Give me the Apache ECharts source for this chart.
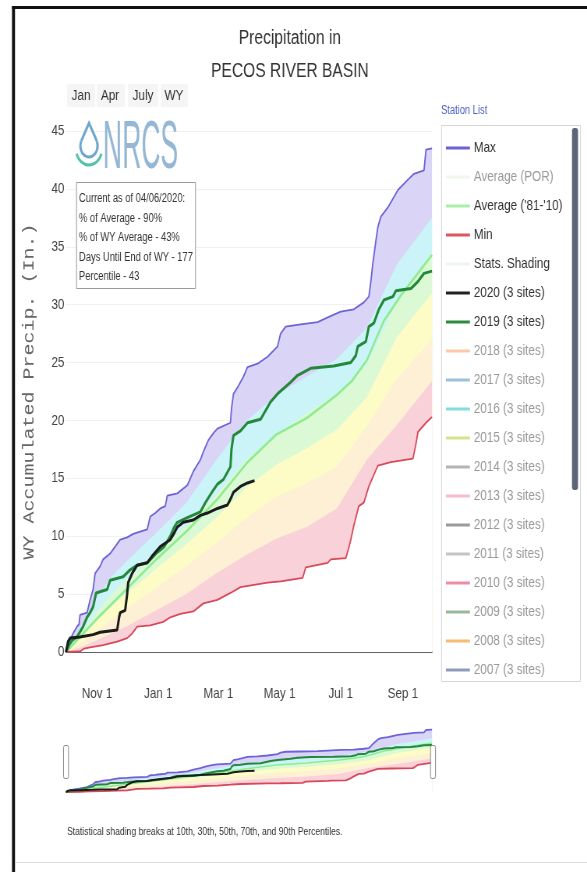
<!DOCTYPE html>
<html><head><meta charset="utf-8">
<script src="https://cdn.jsdelivr.net/npm/echarts@6/dist/echarts.min.js"></script>
<style>html,body{margin:0;padding:0;background:#fff;overflow:hidden}
#c{width:753px;height:872px;transform:scaleX(0.7796);transform-origin:0 0}</style>
</head><body><div id="c"></div>
<script>
// ---- axis ticks (water-year day index, Oct 1 = 0) ----
const tickDays = [31, 92, 152, 213, 274, 336];
const tickLabels = ['Nov 1', 'Jan 1', 'Mar 1', 'May 1', 'Jul 1', 'Sep 1'];
const yTicks = [0, 5, 10, 15, 20, 25, 30, 35, 40, 45];

// ---- series values [day, inches] ----
const maxLine = [[0,0],[1,0.3],[4,1.0],[7,1.6],[11,2.2],[13,2.4],[14,3.2],[21,3.4],[24,4.5],[27,5.4],[29,6.8],[34,7.4],[37,8.0],[44,8.5],[49,9.1],[54,9.7],[61,9.9],[67,10.2],[74,10.4],[81,10.6],[84,11.7],[89,12.0],[94,12.4],[99,12.6],[101,13.5],[111,13.7],[121,14.4],[127,15.6],[134,16.6],[137,17.3],[142,18.3],[147,18.9],[151,19.3],[164,19.8],[165,21.0],[167,22.3],[172,23.0],[177,23.8],[181,24.6],[191,24.9],[201,25.5],[211,26.4],[214,27.5],[219,28.1],[234,28.3],[251,28.5],[261,28.9],[274,29.4],[287,29.6],[297,30.2],[302,30.7],[304,32.0],[306,33.6],[309,35.5],[311,36.7],[314,37.6],[321,38.4],[331,39.9],[341,40.8],[347,41.3],[357,41.6],[359,43.4],[365,43.5]];
const minLine = [[0,0],[14,0.05],[18,0.3],[24,0.4],[37,0.6],[51,0.9],[61,1.2],[66,1.6],[71,2.2],[84,2.3],[97,2.6],[104,3.0],[114,3.3],[127,3.5],[137,4.2],[151,4.5],[164,5.1],[174,5.6],[201,6.0],[214,6.1],[236,6.4],[239,7.3],[261,7.7],[264,8.0],[279,8.1],[282,9.0],[284,9.7],[287,10.9],[292,12.6],[297,12.9],[302,14.3],[311,16.1],[324,16.4],[346,16.7],[349,18.0],[351,19.0],[359,19.8],[365,20.3]];
const avg8110 = [[0,0],[15,1.4],[30,2.8],[45,4.1],[60,5.4],[90,8.0],[120,10.4],[150,13.1],[180,16.3],[210,18.8],[240,20.2],[270,22.2],[285,23.4],[300,25.2],[317,28.6],[334,30.8],[365,34.3]];
const wy2020 = [[0,0],[2,0.9],[4,1.2],[14,1.3],[27,1.5],[34,1.7],[51,1.9],[53,3.0],[54,3.4],[59,3.6],[61,5.0],[62,6.0],[66,6.8],[71,7.5],[81,7.7],[86,8.3],[91,8.8],[94,9.1],[104,9.7],[108,10.3],[111,10.8],[117,11.2],[127,11.4],[134,11.8],[141,12.0],[151,12.4],[161,12.7],[164,13.2],[167,13.8],[174,14.3],[181,14.6],[188,14.8]];
const wy2019 = [[0,0],[3,0.6],[6,1.0],[11,1.3],[17,2.2],[21,3.0],[24,3.4],[27,3.9],[30,5.1],[41,5.4],[44,6.2],[57,6.5],[64,7.1],[71,7.5],[81,7.7],[91,8.6],[98,9.1],[104,10.0],[108,10.8],[111,11.2],[121,11.6],[134,12.1],[139,12.9],[147,14.0],[151,14.5],[157,14.9],[164,16.0],[165,17.5],[167,18.7],[174,19.1],[181,19.8],[194,20.1],[204,21.6],[211,22.3],[224,23.3],[231,23.9],[244,24.5],[267,24.7],[284,25.0],[289,25.6],[291,26.4],[299,26.8],[302,28.1],[307,28.4],[312,29.6],[317,30.4],[326,30.7],[329,31.2],[344,31.4],[351,32.0],[357,32.7],[365,32.9]];

// ---- statistical shading (percentiles) ----
const statDays = [0, 15, 30, 45, 60, 90, 120, 150, 180, 210, 240, 270, 300, 330, 365];
const p90 = [0, 2.2, 4.6, 6.5, 7.8, 10.3, 12.9, 16.6, 20.0, 22.2, 23.8, 25.3, 28.0, 33.5, 37.5];
const p70 = [0, 1.6, 3.4, 5.0, 6.2, 8.6, 10.9, 13.6, 16.6, 18.8, 20.6, 22.3, 24.8, 30.3, 34.5];
const p50 = [0, 1.2, 2.6, 3.9, 5.0, 7.2, 9.3, 11.6, 14.2, 16.2, 17.6, 19.2, 22.0, 27.2, 31.0];
const p30 = [0, 0.8, 1.8, 2.8, 3.7, 5.6, 7.4, 9.4, 11.6, 13.4, 14.6, 16.0, 19.5, 23.6, 27.0];
const p10 = [0, 0.4, 1.0, 1.6, 2.2, 3.6, 5.0, 6.8, 8.4, 9.8, 10.8, 12.4, 16.6, 19.6, 23.4];

// ---- legend entries ----
const legendNames = ['Max', 'Average (POR)', "Average ('81-'10)", 'Min', 'Stats. Shading', '2020 (3 sites)', '2019 (3 sites)',
  '2018 (3 sites)', '2017 (3 sites)', '2016 (3 sites)', '2015 (3 sites)', '2014 (3 sites)', '2013 (3 sites)',
  '2012 (3 sites)', '2011 (3 sites)', '2010 (3 sites)', '2009 (3 sites)', '2008 (3 sites)', '2007 (3 sites)'];
const legendColors = ['#6c63d9', '#eef7ea', '#a9f0a9', '#d9585f', '#eef5ee', '#222222', '#2e8a3e',
  '#fbc8a8', '#9cc0da', '#7fdde4', '#d6e38e', '#b4b4b4', '#f6bccb', '#9a9a9a', '#c4c4c4', '#f08aa6', '#97b997', '#f8bb72', '#8e9cbc'];
const legendActive = [true, false, true, true, true, true, true, false, false, false, false, false, false, false, false, false, false, false, false];

// page is drawn wider and squeezed horizontally (like the reference rendering)
const S = 0.7796;
const X = px => px / S;
const FONT = "'Liberation Sans',Arial,sans-serif";

const zip = (xs, ys) => xs.map((x, i) => [x, ys[i]]);
const bandColors = ['#dad4f6', '#cbf4f9', '#dcf9d6', '#fefcc6', '#fdf0d4', '#f9d2d9', '#ffffff'];
const bandData = [maxLine, zip(statDays, p90), zip(statDays, p70), zip(statDays, p50), zip(statDays, p30), zip(statDays, p10), minLine];

function buildSeries(gi) {
  const mini = gi === 1;
  const s = [];
  bandData.forEach((d, i) => {
    s.push({ name: 'Stats. Shading', type: 'line', xAxisIndex: gi, yAxisIndex: gi, data: d, symbol: 'none', silent: true,
      lineStyle: { width: 0 }, areaStyle: { color: bandColors[i], opacity: 1 }, itemStyle: { color: bandColors[i] }, z: 1 });
  });
  const lines = [
    ["Average ('81-'10)", avg8110, '#8eec8e', mini ? 1.5 : 2.5],
    ['Max', maxLine, '#6c63d9', mini ? 1.8 : 1.8],
    ['Min', minLine, '#d9485a', mini ? 1.8 : 1.8],
    ['2019 (3 sites)', wy2019, '#23883a', mini ? 2 : 3],
    ['2020 (3 sites)', wy2020, '#1b1b1b', mini ? 2 : 3]
  ];
  lines.forEach(([n, d, c, w]) => {
    s.push({ name: n, type: 'line', xAxisIndex: gi, yAxisIndex: gi, data: d, symbol: 'none', silent: true,
      lineStyle: { color: c, width: w }, itemStyle: { color: c }, z: 3 });
  });
  return s;
}

const series = buildSeries(0).concat(buildSeries(1));
legendNames.forEach((n, i) => {
  if (!['Max', "Average ('81-'10)", 'Min', 'Stats. Shading', '2020 (3 sites)', '2019 (3 sites)'].includes(n)) {
    series.push({ name: n, type: 'line', data: [], itemStyle: { color: legendColors[i] } });
  }
});

const txt = (x, y, text, size, extra) => ({ type: 'text', x: X(x), y: y, z: 20,
  style: Object.assign({ text: text, fontFamily: FONT, fontSize: size, fill: '#333' }, extra || {}) });

const chart = echarts.init(document.getElementById('c'), null, { renderer: 'canvas', width: 753, height: 872 });
chart.setOption({
  animation: false,
  backgroundColor: '#ffffff',
  textStyle: { fontFamily: FONT },
  title: [
    { text: 'Precipitation in\nPECOS RIVER BASIN', left: X(286), top: 17, textAlign: 'center',
      textStyle: { fontFamily: FONT, fontSize: 20, fontWeight: 'normal', color: '#333', lineHeight: 33 } }
  ],
  grid: [
    { left: X(66), top: 131, width: X(366), height: 521, containLabel: false },
    { left: X(66), top: 729, width: X(366), height: 63, containLabel: false }
  ],
  xAxis: [
    { type: 'value', gridIndex: 0, min: 0, max: 365,
      axisLine: { show: true, lineStyle: { color: '#333', width: 1.5 } }, axisTick: { show: false }, splitLine: { show: false },
      axisLabel: { customValues: tickDays, formatter: v => tickLabels[tickDays.indexOf(v)], margin: 34, fontSize: 15, color: '#444', fontFamily: FONT } },
    { type: 'value', gridIndex: 1, min: 0, max: 365, show: false }
  ],
  yAxis: [
    { type: 'value', gridIndex: 0, min: 0, max: 45, interval: 5,
      name: 'WY Accumulated Precip. (In.)', nameLocation: 'middle', nameGap: 37, nameRotate: 90,
      nameTextStyle: { fontFamily: "'Liberation Mono','DejaVu Sans Mono',monospace", fontSize: 20, color: '#666' },
      axisLine: { show: false }, axisTick: { show: false },
      axisLabel: { customValues: yTicks, margin: 2, fontSize: 15, color: '#444', fontFamily: FONT },
      splitLine: { show: true, lineStyle: { color: '#f1f1f1' } } },
    { type: 'value', gridIndex: 1, min: 0, max: 44, show: false }
  ],
  legend: {
    orient: 'vertical', left: X(442), top: 135, itemGap: 13, itemWidth: X(24), itemHeight: 3, icon: 'rect',
    selectedMode: false,
    textStyle: { fontFamily: FONT, fontSize: 15, color: '#333', lineHeight: 16 },
    data: legendNames.map((n, i) => ({ name: n, itemStyle: { color: legendColors[i] },
      textStyle: { color: legendActive[i] ? '#333' : '#999' } }))
  },
  graphic: [
    // frame
    { type: 'rect', shape: { x: X(12), y: 6, width: 800, height: 3 }, style: { fill: '#111' }, silent: true },
    { type: 'rect', shape: { x: X(12), y: 6, width: X(3), height: 870 }, style: { fill: '#111' }, silent: true },
    { type: 'line', shape: { x1: X(15), y1: 862.5, x2: 800, y2: 862.5 }, style: { stroke: '#ddd', lineWidth: 1 }, silent: true },
    // range buttons
    { type: 'rect', shape: { x: X(67), y: 84, width: X(28), height: 23, r: 2 }, style: { fill: '#f5f5f5' } },
    { type: 'rect', shape: { x: X(97), y: 84, width: X(28), height: 23, r: 2 }, style: { fill: '#f5f5f5' } },
    { type: 'rect', shape: { x: X(128), y: 84, width: X(30), height: 23, r: 2 }, style: { fill: '#f5f5f5' } },
    { type: 'rect', shape: { x: X(161), y: 84, width: X(27), height: 23, r: 2 }, style: { fill: '#f5f5f5' } },
    txt(81, 96, 'Jan', 15, { align: 'center', verticalAlign: 'middle' }),
    txt(110, 96, 'Apr', 15, { align: 'center', verticalAlign: 'middle' }),
    txt(143, 96, 'July', 15, { align: 'center', verticalAlign: 'middle' }),
    txt(174, 96, 'WY', 15, { align: 'center', verticalAlign: 'middle' }),
    // NRCS logo
    { type: 'arc', z: 20, shape: { cx: X(89), cy: 146, r: 11, startAngle: -0.45, endAngle: Math.PI + 0.45, clockwise: true },
      style: { stroke: '#6fa6cc', lineWidth: 3, fill: 'none' } },
    { type: 'polyline', z: 20, shape: { points: [[X(89) - 10, 141], [X(89), 123], [X(89) + 10, 141]] },
      style: { stroke: '#6fa6cc', lineWidth: 3, fill: 'none' } },
    { type: 'arc', z: 20, shape: { cx: X(89), cy: 148, r: 17, startAngle: 0.35, endAngle: Math.PI - 0.35, clockwise: true },
      style: { stroke: '#55c2ae', lineWidth: 3, fill: 'none' } },
    { type: 'text', x: X(103), y: 115, scaleX: 0.5, z: 20,
      style: { text: 'NRCS', fontFamily: FONT, fontSize: 68, fill: '#93b7d4' } },
    // info box
    { type: 'rect', z: 20, shape: { x: X(76.5), y: 182.5, width: X(119), height: 106 }, style: { fill: '#fff', stroke: '#9a9a9a', lineWidth: 1 } },
    { type: 'text', x: X(79), y: 189, z: 21,
      style: { text: 'Current as of 04/06/2020:\n% of Average - 90%\n% of WY Average - 43%\nDays Until End of WY - 177\nPercentile - 43',
        fontFamily: FONT, fontSize: 12, lineHeight: 19.5, fill: '#333' } },
    // legend frame
    txt(441, 105, 'Station List', 12, { fill: '#4a63c4' }),
    { type: 'rect', shape: { x: X(441.5), y: 125.5, width: X(139), height: 556 }, style: { fill: 'none', stroke: '#d6d6d6', lineWidth: 1 } },
    { type: 'rect', shape: { x: X(572), y: 128, width: X(6), height: 362, r: 3 }, style: { fill: '#5d6478' } },
    // navigator handles
    { type: 'rect', z: 20, shape: { x: X(63.5), y: 745.5, width: X(5), height: 33, r: 2 }, style: { fill: '#fff', stroke: '#888', lineWidth: 1 } },
    { type: 'rect', z: 20, shape: { x: X(430.5), y: 745.5, width: X(5), height: 33, r: 2 }, style: { fill: '#fff', stroke: '#888', lineWidth: 1 } },
    // caption
    txt(67, 826, 'Statistical shading breaks at 10th, 30th, 50th, 70th, and 90th Percentiles.', 11)
  ],
  series: series
});
</script>
</body></html>
